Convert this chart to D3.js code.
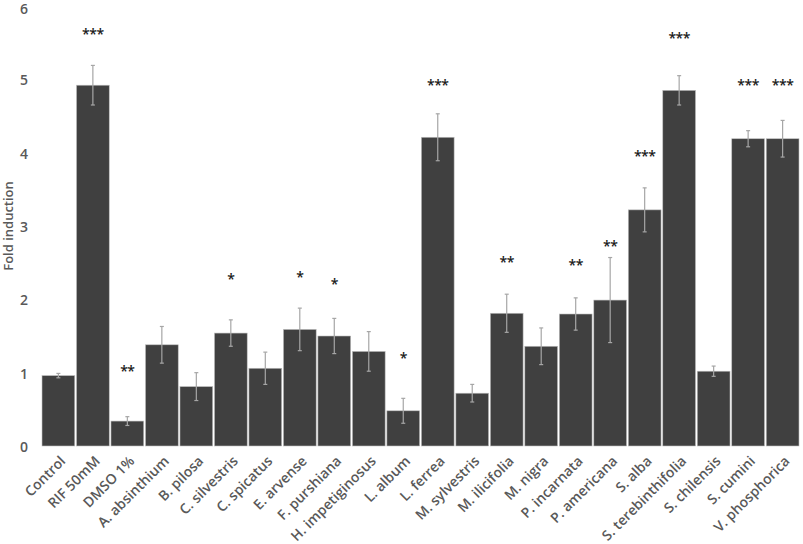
<!DOCTYPE html>
<html>
  <head>
    <meta charset="utf-8">
    <title>Fold induction</title>
    <script src="https://cdn.jsdelivr.net/npm/d3@7/dist/d3.min.js"></script>
    <style>
      body { margin: 0; background: #fff; }
      text { font-family: "Open Sans", sans-serif; }
    </style>
  </head>
  <body>
    <svg id="chart" width="803" height="544"></svg>
    <script>
      var categories = ["Control", "RIF 50mM", "DMSO 1%", "A. absinthium", "B. pilosa",
        "C. silvestris", "C. spicatus", "E. arvense", "F. purshiana", "H. impetiginosus",
        "L. album", "L. ferrea", "M. sylvestris", "M. ilicifolia", "M. nigra",
        "P. incarnata", "P. americana", "S. alba", "S. terebinthifolia", "S. chilensis",
        "S. cumini", "V. phosphorica"];
      var values = [0.96, 4.92, 0.34, 1.38, 0.81, 1.54, 1.06, 1.59, 1.50, 1.29,
        0.48, 4.21, 0.72, 1.81, 1.36, 1.80, 1.99, 3.22, 4.85, 1.02, 4.19, 4.19];
      var errors = [0.03, 0.27, 0.06, 0.25, 0.19, 0.18, 0.22, 0.29, 0.24, 0.27,
        0.17, 0.32, 0.12, 0.26, 0.25, 0.22, 0.58, 0.30, 0.20, 0.07, 0.11, 0.25];
      var stars = ["", "***", "**", "", "", "*", "", "*", "*", "",
        "*", "***", "", "**", "", "**", "**", "***", "***", "", "***", "***"];
      // height (in fold units) where each star label sits
      var starLevel = [0, 5.65, 1.05, 0, 0, 2.31, 0, 2.33, 2.24, 0,
        1.23, 4.95, 0, 2.54, 0, 2.50, 2.75, 3.98, 5.59, 0, 4.95, 4.95];
      var yTicks = [0, 1, 2, 3, 4, 5, 6];

      var svg = d3.select("#chart");

      var x = d3.scaleBand()
        .domain(categories)
        .range([42, 799])
        .paddingInner(0.05)
        .paddingOuter(0);

      var y = d3.scaleLinear()
        .domain([0, 6])
        .range([446, 6]);

      // y axis (labels only)
      var yAxis = svg.append("g")
        .attr("transform", "translate(30,0)")
        .call(d3.axisLeft(y).tickValues(yTicks).tickFormat(d3.format("d")).tickSize(0));
      yAxis.select(".domain").remove();
      yAxis.selectAll("text")
        .attr("x", -2)
        .attr("dy", function(d) { return d == 6 ? "0.55em" : "0.4em"; })
        .style("font-size", "14px")
        .style("font-weight", "600")
        .style("font-family", "'Open Sans', sans-serif")
        .attr("fill", "#595959");

      svg.append("text")
        .attr("transform", "translate(13,226) rotate(-90)")
        .attr("text-anchor", "middle")
        .attr("fill", "#595959")
        .style("font-size", "13px")
        .style("font-weight", "600")
        .text("Fold induction");

      // bars
      svg.append("g").selectAll("rect")
        .data(values)
        .join("rect")
        .attr("x", function(d, i) { return x(categories[i]); })
        .attr("width", x.bandwidth())
        .attr("y", function(d) { return y(d); })
        .attr("height", function(d) { return y(0) - y(d); })
        .attr("fill", "#404040")
        .attr("stroke", "#bfbfbf")
        .attr("stroke-width", 0.6);

      // error bars
      var eb = svg.append("g")
        .attr("stroke", "#a6a6a6")
        .attr("stroke-width", 1.2);
      eb.selectAll("line.v")
        .data(values)
        .join("line")
        .attr("class", "v")
        .attr("x1", function(d, i) { return x(categories[i]) + x.bandwidth() / 2; })
        .attr("x2", function(d, i) { return x(categories[i]) + x.bandwidth() / 2; })
        .attr("y1", function(d, i) { return y(d - errors[i]); })
        .attr("y2", function(d, i) { return y(d + errors[i]); });
      ["top", "bot"].forEach(function(k) {
        eb.selectAll("line." + k)
          .data(values)
          .join("line")
          .attr("class", k)
          .attr("x1", function(d, i) { return x(categories[i]) + x.bandwidth() / 2 - 2; })
          .attr("x2", function(d, i) { return x(categories[i]) + x.bandwidth() / 2 + 2; })
          .attr("y1", function(d, i) { return y(k == "top" ? d + errors[i] : d - errors[i]); })
          .attr("y2", function(d, i) { return y(k == "top" ? d + errors[i] : d - errors[i]); });
      });

      // significance stars
      svg.append("g").selectAll("text")
        .data(stars)
        .join("text")
        .attr("x", function(d, i) { return x(categories[i]) + x.bandwidth() / 2; })
        .attr("y", function(d, i) { return y(starLevel[i]) + 7; })
        .attr("text-anchor", "middle")
        .attr("fill", "#1a1a1a")
        .style("font-size", "14px")
        .style("font-weight", "600")
        .style("letter-spacing", "-0.5px")
        .text(function(d) { return d; });

      // x labels
      svg.append("g").selectAll("text")
        .data(categories)
        .join("text")
        .attr("transform", function(d) {
          return "translate(" + (x(d) + x.bandwidth() / 2 + 8) + ",462) rotate(-45)";
        })
        .attr("text-anchor", "end")
        .attr("fill", "#595959")
        .style("font-size", "14px")
        .style("font-weight", "600")
        .text(function(d) { return d; });
    </script>
  </body>
</html>
